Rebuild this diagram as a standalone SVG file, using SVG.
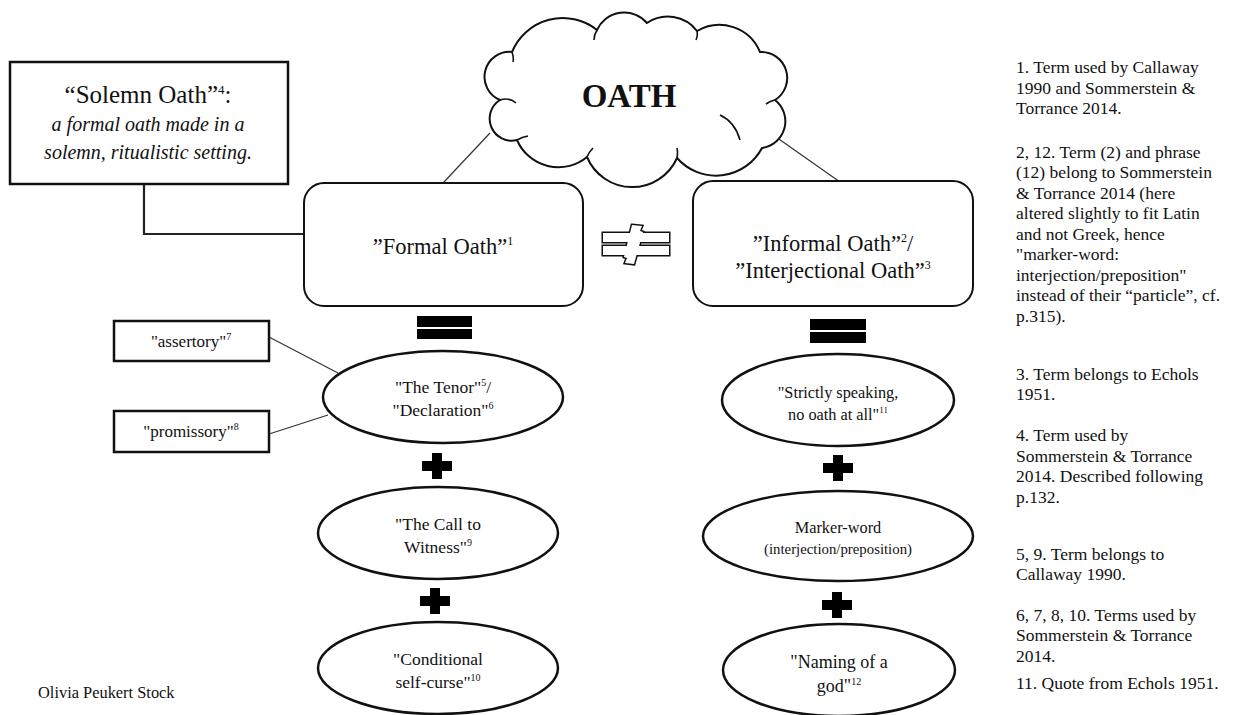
<svg xmlns="http://www.w3.org/2000/svg" width="1234" height="715" viewBox="0 0 1234 715">
<style>
text{font-family:"Liberation Serif","DejaVu Serif",serif;fill:#111}
.box{fill:#fff;stroke:#111;stroke-width:2.5}
.rbox{fill:#fff;stroke:#111;stroke-width:2}
.ell{fill:#fff;stroke:#111;stroke-width:2.5}
.thin{fill:none;stroke:#333;stroke-width:1.2}
.thick{fill:none;stroke:#222;stroke-width:2.2}
.blk{fill:#000}
.mid{text-anchor:middle}
.fn{font-size:17.5px}
</style>
<defs>
<g id="plus"><rect x="-15" y="-5" width="30" height="10"/><rect x="-5" y="-13" width="10" height="26"/></g>
</defs>
<g id="connectors">
<polyline class="thick" points="144,184 144,234 304,234"/>
<line class="thin" x1="490" y1="133" x2="443" y2="183"/>
<line class="thin" x1="766" y1="130" x2="840" y2="182"/>
<line class="thin" x1="269" y1="337" x2="338" y2="373"/>
<line class="thin" x1="269" y1="434" x2="328" y2="415"/>
</g>
<g id="cloud">
<path d="M500,100 A25,25 0 0 1 512,52 A55,55 0 0 1 597,30 A30,30 0 0 1 647,23 A37,37 0 0 1 697,31 A44,44 0 0 1 760,52 A26,26 0 0 1 775,100 A27,27 0 0 1 762,148 A52,52 0 0 1 677,158 A49,49 0 0 1 587,157 A45,45 0 0 1 517,140 A22,22 0 0 1 500,100 Z" fill="#fff" stroke="#111" stroke-width="2"/>
<path d="M500,100 Q509,97 516,103 M512,52 Q514,58 513,62 M597,30 Q594,35 594,40 M697,31 Q698,36 696,40 M775,100 Q770,101 766,104 M720,115 Q735,122 740,140 M677,158 Q678,152 677,148 M587,157 Q589,152 593,148 M517,140 Q522,137 528,136" fill="none" stroke="#111" stroke-width="1.6"/>
<text class="mid" x="629" y="107" font-size="33" font-weight="bold">OATH</text>
</g>
<g id="solemn">
<rect class="box" x="10" y="62" width="278" height="122"/>
<text class="mid" x="148" y="103" font-size="25">“Solemn Oath”<tspan font-size="13" dy="-9">4</tspan><tspan dy="9">:</tspan></text>
<text class="mid" x="148" y="131" font-size="20" font-style="italic">a formal oath made in a</text>
<text class="mid" x="148" y="159" font-size="20" font-style="italic">solemn, ritualistic setting.</text>
</g>
<g id="formal">
<rect class="rbox" x="304" y="183" width="279" height="123" rx="20"/>
<text class="mid" x="443" y="254" font-size="22.5">”Formal Oath”<tspan font-size="12" dy="-9">1</tspan></text>
</g>
<g id="neq">
<g stroke="#111" stroke-width="3" fill="#111">
<rect x="603" y="233" width="66" height="9"/><rect x="603" y="246" width="66" height="9"/>
<path d="M632,225 L642,226 L640,231 L643,232 L634,264 L625,263 L627,258 L624,257 Z"/>
</g>
<g fill="#fff">
<rect x="603" y="233" width="66" height="9"/><rect x="603" y="246" width="66" height="9"/>
<path d="M632,225 L642,226 L640,231 L643,232 L634,264 L625,263 L627,258 L624,257 Z"/>
</g>
</g>
<g id="informal">
<rect class="rbox" x="693" y="181" width="280" height="125" rx="20"/>
<text class="mid" x="833" y="251" font-size="22.5">”Informal Oath”<tspan font-size="12" dy="-9">2</tspan><tspan dy="9">/</tspan></text>
<text class="mid" x="833" y="278" font-size="22.5">”Interjectional Oath”<tspan font-size="12" dy="-9">3</tspan></text>
</g>
<g id="eq-left"><rect class="blk" x="417" y="316" width="55" height="11"/><rect class="blk" x="417" y="329" width="55" height="10"/></g>
<g id="eq-right"><rect class="blk" x="810" y="319" width="56" height="11"/><rect class="blk" x="810" y="332" width="56" height="11"/></g>
<g id="assertory">
<rect class="box" x="114" y="321" width="155" height="40"/>
<text class="mid" x="191" y="347" font-size="17">"assertory"<tspan font-size="10" dy="-7">7</tspan></text>
</g>
<g id="promissory">
<rect class="box" x="114" y="411" width="155" height="41"/>
<text class="mid" x="191" y="437" font-size="17">"promissory"<tspan font-size="10" dy="-7">8</tspan></text>
</g>
<g id="tenor">
<ellipse class="ell" cx="443" cy="397" rx="120" ry="46"/>
<text class="mid" x="443" y="393" font-size="17.5">"The Tenor"<tspan font-size="10" dy="-7">5</tspan><tspan dy="7">/</tspan></text>
<text class="mid" x="443" y="416" font-size="17.5">"Declaration"<tspan font-size="10" dy="-7">6</tspan></text>
</g>
<use href="#plus" x="437" y="466"/>
<g id="call">
<ellipse class="ell" cx="438" cy="533" rx="120" ry="46"/>
<text class="mid" x="438" y="530" font-size="17.5">"The Call to</text>
<text class="mid" x="438" y="553" font-size="17.5">Witness"<tspan font-size="10" dy="-7">9</tspan></text>
</g>
<use href="#plus" x="435" y="601"/>
<g id="conditional">
<ellipse class="ell" cx="438" cy="668" rx="120" ry="46"/>
<text class="mid" x="438" y="665" font-size="17.5">"Conditional</text>
<text class="mid" x="438" y="688" font-size="17.5">self-curse"<tspan font-size="10" dy="-7">10</tspan></text>
</g>
<g id="strictly">
<ellipse class="ell" cx="838" cy="400" rx="116" ry="46"/>
<text class="mid" x="838" y="398" font-size="16.3">"Strictly speaking,</text>
<text class="mid" x="838" y="420" font-size="16.3">no oath at all"<tspan font-size="9" dy="-7">11</tspan></text>
</g>
<use href="#plus" x="838" y="468"/>
<g id="marker">
<ellipse class="ell" cx="838" cy="536" rx="135" ry="45"/>
<text class="mid" x="838" y="533" font-size="16.3">Marker-word</text>
<text class="mid" x="838" y="554" font-size="14.8">(interjection/preposition)</text>
</g>
<use href="#plus" x="837" y="605"/>
<g id="naming">
<ellipse class="ell" cx="839" cy="670" rx="116" ry="46"/>
<text class="mid" x="839" y="668" font-size="18">"Naming of a</text>
<text class="mid" x="839" y="692" font-size="18">god"<tspan font-size="10" dy="-7">12</tspan></text>
</g>
<text x="38" y="698" font-size="16.4">Olivia Peukert Stock</text>
<g id="footnotes" class="fn">
<text x="1016" y="73">1. Term used by Callaway</text>
<text x="1016" y="94">1990 and Sommerstein &amp;</text>
<text x="1016" y="114">Torrance 2014.</text>
<text x="1016" y="158">2, 12. Term (2) and phrase</text>
<text x="1016" y="178">(12) belong to Sommerstein</text>
<text x="1016" y="199">&amp; Torrance 2014 (here</text>
<text x="1016" y="219">altered slightly to fit Latin</text>
<text x="1016" y="240">and not Greek, hence</text>
<text x="1016" y="260">"marker-word:</text>
<text x="1016" y="281">interjection/preposition"</text>
<text x="1016" y="301">instead of their “particle”, cf.</text>
<text x="1016" y="322">p.315).</text>
<text x="1016" y="380">3. Term belongs to Echols</text>
<text x="1016" y="400">1951.</text>
<text x="1016" y="441">4. Term used by</text>
<text x="1016" y="462">Sommerstein &amp; Torrance</text>
<text x="1016" y="482">2014. Described following</text>
<text x="1016" y="503">p.132.</text>
<text x="1016" y="560">5, 9. Term belongs to</text>
<text x="1016" y="580">Callaway 1990.</text>
<text x="1016" y="621">6, 7, 8, 10. Terms used by</text>
<text x="1016" y="641">Sommerstein &amp; Torrance</text>
<text x="1016" y="662">2014.</text>
<text x="1016" y="689">11. Quote from Echols 1951.</text>
</g>
</svg>
